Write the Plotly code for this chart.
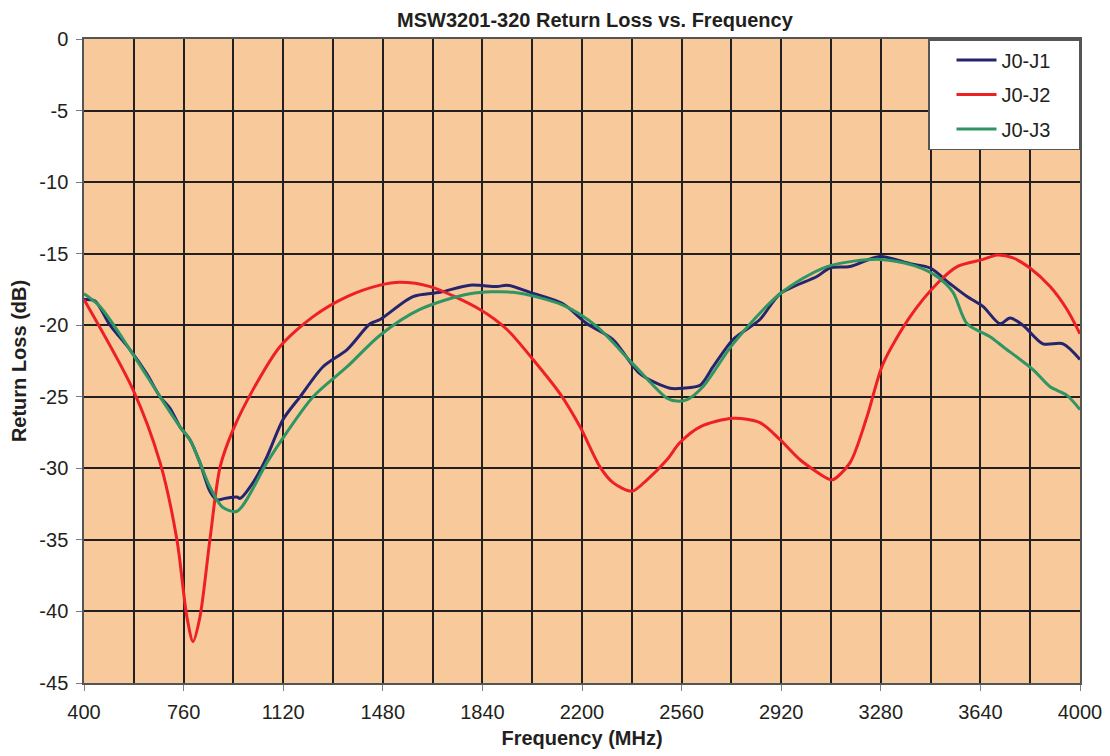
import plotly.graph_objects as go

FONT = "Liberation Sans, Arial, sans-serif"
INK = "#231f20"
PAD = "\u00a0" * 4  # widens the legend box on the right

# J0-J1 (navy)
j1_freq = [400, 440, 494, 566, 627, 675, 711, 747, 783, 819, 855, 880, 910, 953, 964, 1011,
           1061, 1119, 1181, 1264, 1351, 1434, 1470, 1589, 1687, 1795, 1893, 1929, 2012,
           2131, 2218, 2312, 2410, 2518, 2565, 2627, 2674, 2746, 2843, 2916, 3049, 3096,
           3169, 3277, 3386, 3458, 3530, 3592, 3650, 3711, 3747, 3794, 3866, 3939, 4000]
j1_rl = [-18.2, -18.3, -20.0, -21.7, -23.4, -25.0, -25.8, -27.1, -28.0, -29.6, -31.6, -32.2,
         -32.1, -32.0, -32.1, -31.0, -29.2, -26.6, -25.0, -22.9, -21.7, -19.9, -19.6, -18.0,
         -17.7, -17.2, -17.3, -17.2, -17.7, -18.5, -19.9, -21.0, -23.4, -24.4, -24.4, -24.2,
         -22.9, -21.0, -19.6, -17.8, -16.6, -16.0, -15.9, -15.2, -15.7, -16.0, -17.1, -18.0,
         -18.7, -19.9, -19.5, -20.0, -21.3, -21.3, -22.4]

# J0-J2 (red)
j2_freq = [400, 577, 675, 736, 772, 794, 819, 855, 892, 939, 1011, 1108, 1228, 1351, 1470,
           1542, 1651, 1831, 1929, 2023, 2121, 2193, 2265, 2312, 2381, 2435, 2507, 2554,
           2627, 2746, 2843, 2916, 2988, 3086, 3107, 3169, 3230, 3288, 3386, 3483, 3556,
           3650, 3700, 3758, 3819, 3892, 3953, 4000]
j2_rl = [-18.2, -24.5, -29.6, -35.0, -40.4, -42.1, -40.4, -35.0, -29.9, -27.3, -24.5, -21.5,
         -19.4, -18.0, -17.2, -17.0, -17.3, -18.9, -20.3, -22.4, -24.8, -27.1, -29.9, -31.0,
         -31.6, -30.8, -29.4, -28.2, -27.1, -26.5, -26.8, -28.0, -29.4, -30.7, -30.8, -29.6,
         -26.4, -22.7, -19.4, -17.1, -15.9, -15.4, -15.1, -15.3, -16.0, -17.3, -18.9, -20.6]

# J0-J3 (green)
j3_freq = [400, 458, 566, 675, 747, 783, 819, 855, 900, 953, 1061, 1108, 1228, 1351, 1470,
           1614, 1795, 1951, 2131, 2254, 2384, 2507, 2543, 2580, 2637, 2746, 2916, 3086,
           3277, 3411, 3483, 3541, 3592, 3675, 3722, 3830, 3892, 3953, 4000]
j3_rl = [-17.8, -18.7, -21.7, -25.0, -27.1, -28.0, -29.6, -31.3, -32.7, -33.0, -29.6, -28.2,
         -25.0, -22.9, -20.7, -18.9, -17.8, -17.7, -18.6, -20.1, -22.7, -25.1, -25.3, -25.2,
         -24.3, -21.3, -17.8, -15.9, -15.4, -15.9, -16.6, -17.7, -19.9, -20.8, -21.5, -23.1,
         -24.3, -24.9, -25.9]

x_ticks = list(range(400, 4001, 360))
y_ticks = list(range(0, -46, -5))

series = [
    ("J0-J1", j1_freq, j1_rl, "#25256f"),
    ("J0-J2", j2_freq, j2_rl, "#ee1f25"),
    ("J0-J3", j3_freq, j3_rl, "#2f9562"),
]

fig = go.Figure()
for name, xs, ys, color in series:
    fig.add_trace(
        go.Scatter(
            x=xs, y=ys, name=name + PAD, mode="lines", legendgroup=name,
            line={"color": color, "width": 3, "shape": "spline", "smoothing": 0.8},
        )
    )

# page body adds an 8px offset, so the figure is a little smaller than the window
fig.update_layout(
    width=1102,
    height=748,
    paper_bgcolor="white",
    plot_bgcolor="#f8c99b",
    margin={"l": 76, "r": 30, "t": 31, "b": 73},
    font={"family": FONT, "color": INK, "size": 20},
    title={
        "text": "<b>MSW3201-320 Return Loss vs. Frequency</b>",
        "x": 0.513, "xref": "paper", "xanchor": "center",
        "y": 0.984, "yanchor": "middle",
        "font": {"size": 20, "family": FONT, "color": INK},
    },
    showlegend=True,
    legend={
        "x": 1, "xanchor": "right", "y": 1, "yanchor": "top",
        "bgcolor": "white", "bordercolor": "#555555", "borderwidth": 1.5,
        "font": {"size": 20, "family": FONT, "color": INK},
        "traceorder": "grouped", "tracegroupgap": 5.5,
        "itemwidth": 40, "indentation": 22,
    },
    xaxis={
        "range": [400, 4000],
        "automargin": False,
        "tickmode": "array", "tickvals": x_ticks,
        "ticktext": [str(v) for v in x_ticks],
        "ticks": "outside", "ticklen": 6, "tickcolor": "#7f7f7f", "tickwidth": 1,
        "ticklabelstandoff": 4,
        "showgrid": True, "gridcolor": INK, "gridwidth": 1.5,
        "minor": {"dtick": 180, "tick0": 400, "showgrid": True, "gridcolor": INK, "gridwidth": 1.5},
        "showline": True, "linecolor": "#555555", "linewidth": 1.5, "mirror": True,
        "zeroline": False,
        "title": {"text": "<b>Frequency (MHz)</b>", "font": {"size": 20}, "standoff": 9},
    },
    yaxis={
        "range": [-45, 0],
        "automargin": False,
        "tickmode": "array", "tickvals": y_ticks,
        "ticktext": [str(v) for v in y_ticks],
        "ticks": "outside", "ticklen": 6, "tickcolor": "#7f7f7f", "tickwidth": 1,
        "ticklabelstandoff": 4,
        "showgrid": True, "gridcolor": INK, "gridwidth": 1.5,
        "showline": True, "linecolor": "#555555", "linewidth": 1.5, "mirror": True,
        "zeroline": False,
        "title": {"text": "\u00a0" * 5 + "<b>Return Loss (dB)</b>", "font": {"size": 20}, "standoff": 8},
    },
)

fig.write_html("out.html")
